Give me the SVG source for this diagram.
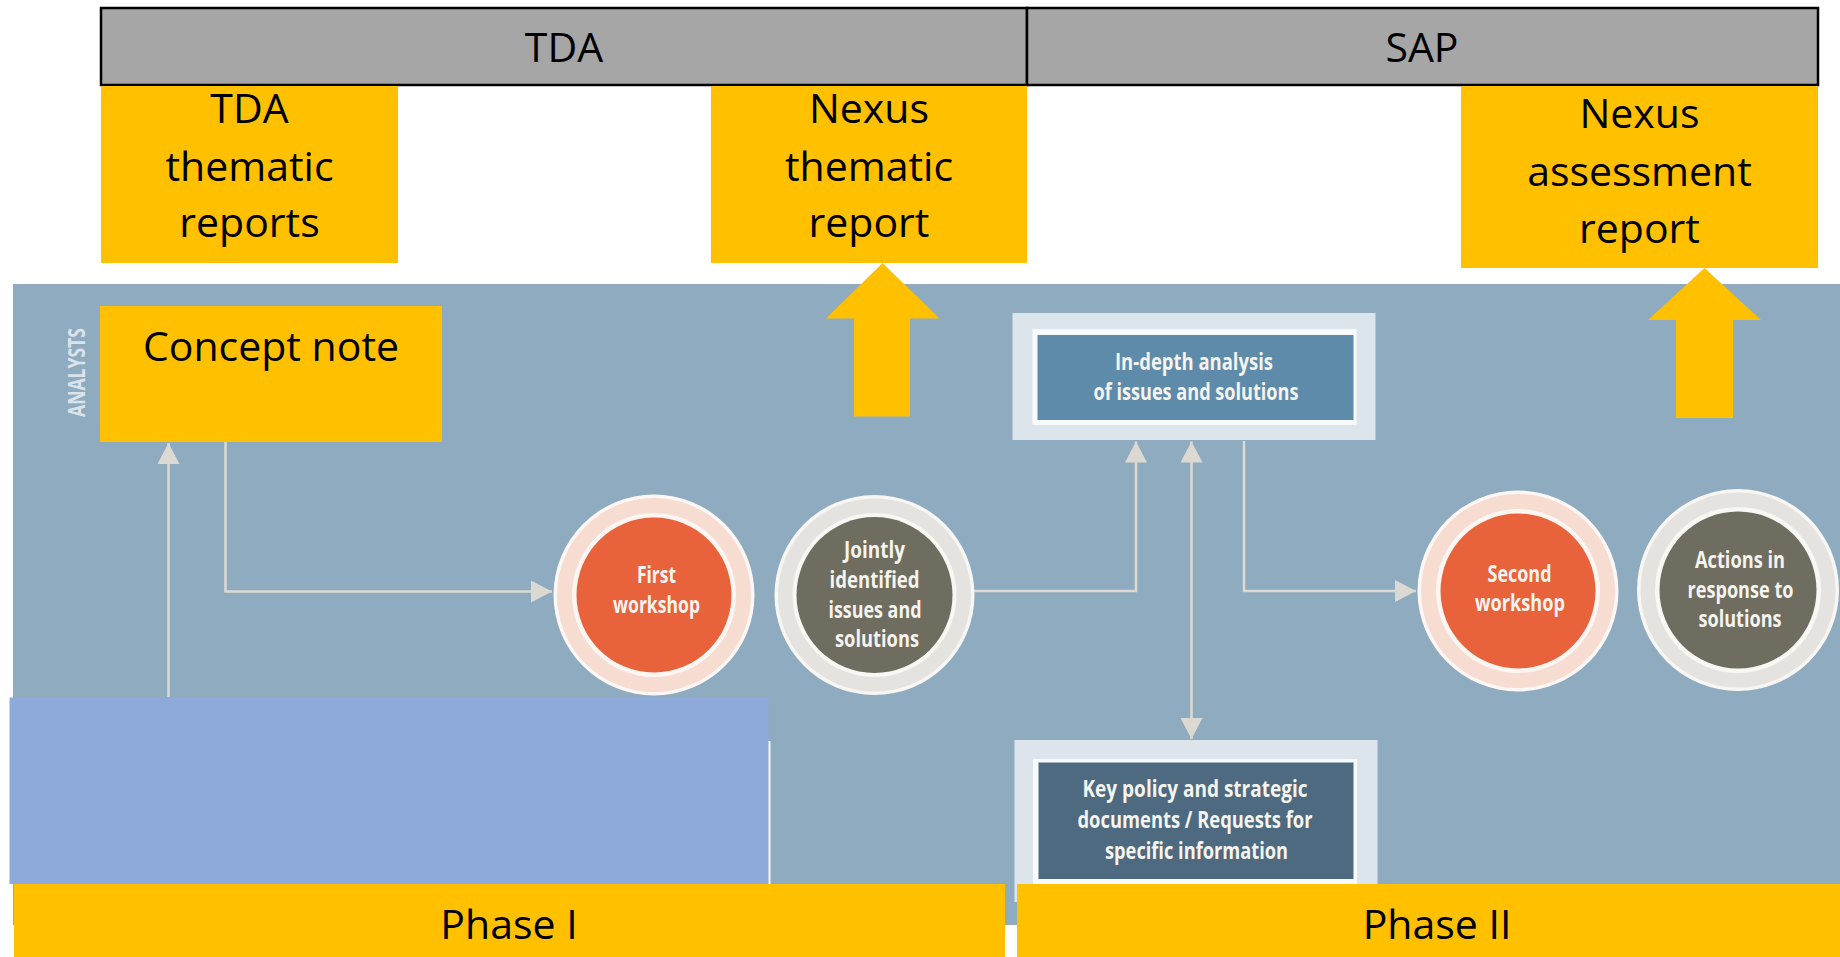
<svg xmlns="http://www.w3.org/2000/svg" width="1840" height="957" viewBox="0 0 1840 957">
<defs>
<style>
.hdr{fill:#a6a6a6;stroke:#000;stroke-width:2.5}
.yel{fill:#ffc000}
.big{font-family:"Open Sans","Noto Sans","Liberation Sans",sans-serif;font-size:41px;fill:#000;text-anchor:middle}
.lbl{font-family:"Open Sans","Noto Sans","Liberation Sans",sans-serif;font-weight:700;font-size:23.5px;fill:#f6f4ef;text-anchor:middle}
.conn{fill:none;stroke:#dcd9d2;stroke-width:2.5}
.frame{fill:#dde5ec}
</style>
<marker id="ah" markerUnits="userSpaceOnUse" markerWidth="22" markerHeight="22" refX="21" refY="11" orient="auto-start-reverse" viewBox="0 0 22 22">
<path d="M0,0 L21,11 L0,22 z" fill="#dcd9d2"/>
</marker>
</defs>
<rect width="1840" height="957" fill="#ffffff"/>
<rect id="background" x="13" y="284" width="1827" height="641" fill="#8fabc0"/>

<g id="header-tda">
<rect class="hdr" x="101" y="8" width="926" height="77"/>
<text class="big" x="564" y="62">TDA</text>
</g>
<g id="header-sap">
<rect class="hdr" x="1027" y="8" width="791" height="77"/>
<text class="big" x="1422" y="62">SAP</text>
</g>

<g id="tda-thematic-reports">
<rect class="yel" x="101" y="86" width="297" height="177"/>
<text class="big" x="249.5" y="123">TDA</text>
<text class="big" x="249.5" y="181">thematic</text>
<text class="big" x="249.5" y="237">reports</text>
</g>
<g id="nexus-thematic-report">
<rect class="yel" x="711" y="86" width="316" height="177"/>
<text class="big" x="869" y="123">Nexus</text>
<text class="big" x="869" y="181">thematic</text>
<text class="big" x="869" y="237">report</text>
<polygon class="yel" points="882.5,263 939.5,318.5 910,318.5 910,416.5 854,416.5 854,318.5 826,318.5"/>
</g>
<g id="nexus-assessment-report">
<rect class="yel" x="1461" y="86" width="357" height="182"/>
<text class="big" x="1639.5" y="128">Nexus</text>
<text class="big" x="1639.5" y="186">assessment</text>
<text class="big" x="1639.5" y="243">report</text>
<polygon class="yel" points="1704.5,268 1761,320 1733,320 1733,418 1676,418 1676,320 1648,320"/>
</g>

<g id="analysts-label">
<text x="85" y="372.5" transform="rotate(-90 85 372.5)" font-family="'Open Sans','Noto Sans','Liberation Sans',sans-serif" font-weight="700" font-size="24" fill="#dbe3ea" text-anchor="middle" textLength="89" lengthAdjust="spacingAndGlyphs">ANALYSTS</text>
</g>

<g id="key-policy">
<rect class="frame" x="1014.5" y="740" width="363" height="162"/>
<rect x="1033" y="759" width="324" height="125" fill="#f7f9fb"/>
<rect x="1038.5" y="762.5" width="315" height="116.5" fill="#4d6a80"/>
<text class="lbl" x="1195" y="796.5" textLength="225" lengthAdjust="spacingAndGlyphs">Key policy and strategic</text>
<text class="lbl" x="1195" y="828" textLength="235" lengthAdjust="spacingAndGlyphs">documents / Requests for</text>
<text class="lbl" x="1196.5" y="858.5" textLength="183" lengthAdjust="spacingAndGlyphs">specific information</text>
</g>

<g id="connectors">
<path class="conn" d="M168.5,697 V443" marker-end="url(#ah)"/>
<path class="conn" d="M225.5,442 V591.5 H552" marker-end="url(#ah)"/>
<path class="conn" d="M973,591 H1136 V441.5" marker-end="url(#ah)"/>
<path class="conn" d="M1191.5,441.5 V739" marker-start="url(#ah)" marker-end="url(#ah)"/>
<path class="conn" d="M1244,441 V591 H1416" marker-end="url(#ah)"/>
</g>

<g id="concept-note">
<rect class="yel" x="100" y="306" width="342" height="136"/>
<text class="big" x="271" y="360.5">Concept note</text>
</g>

<g id="in-depth-analysis">
<rect class="frame" x="1012.5" y="313" width="363" height="127"/>
<rect x="1032.5" y="329" width="324" height="96" fill="#f7f9fb"/>
<rect x="1037.5" y="335" width="316" height="85" fill="#5f8baa"/>
<text class="lbl" x="1194" y="370" textLength="158" lengthAdjust="spacingAndGlyphs">In-depth analysis</text>
<text class="lbl" x="1196" y="400" textLength="205" lengthAdjust="spacingAndGlyphs">of issues and solutions</text>
</g>

<g id="first-workshop">
<circle cx="654" cy="595" r="100.5" fill="#fcf7f4"/>
<circle cx="654" cy="595" r="97" fill="#f7dcd2"/>
<circle cx="654" cy="595" r="82" fill="#fcf6f2"/>
<circle cx="654" cy="595" r="77.5" fill="#e8633b"/>
<text class="lbl" x="656.5" y="582.5" textLength="39" lengthAdjust="spacingAndGlyphs">First</text>
<text class="lbl" x="656.5" y="612.5" textLength="87" lengthAdjust="spacingAndGlyphs">workshop</text>
</g>

<g id="jointly-identified">
<circle cx="874.5" cy="595" r="100" fill="#f7f6f3"/>
<circle cx="874.5" cy="595" r="96.5" fill="#e4e3df"/>
<circle cx="874.5" cy="595" r="82" fill="#f7f7f4"/>
<circle cx="874.5" cy="595" r="78" fill="#6f6d60"/>
<text class="lbl" x="874.5" y="558" textLength="61" lengthAdjust="spacingAndGlyphs">Jointly</text>
<text class="lbl" x="874.5" y="588" textLength="90" lengthAdjust="spacingAndGlyphs">identified</text>
<text class="lbl" x="875" y="618" textLength="93" lengthAdjust="spacingAndGlyphs">issues and</text>
<text class="lbl" x="877" y="646.5" textLength="84" lengthAdjust="spacingAndGlyphs">solutions</text>
</g>

<g id="second-workshop">
<circle cx="1518" cy="591" r="100.5" fill="#fcf7f4"/>
<circle cx="1518" cy="591" r="97" fill="#f7dcd2"/>
<circle cx="1518" cy="591" r="82" fill="#fcf6f2"/>
<circle cx="1518" cy="591" r="77.5" fill="#e8633b"/>
<text class="lbl" x="1519.5" y="581.5" textLength="64" lengthAdjust="spacingAndGlyphs">Second</text>
<text class="lbl" x="1520" y="610.5" textLength="90" lengthAdjust="spacingAndGlyphs">workshop</text>
</g>

<g id="actions-in-response">
<circle cx="1738" cy="590" r="101" fill="#f7f6f3"/>
<circle cx="1738" cy="590" r="97.5" fill="#e4e3df"/>
<circle cx="1738" cy="590" r="83" fill="#f7f7f4"/>
<circle cx="1738" cy="590" r="78.5" fill="#6f6d60"/>
<text class="lbl" x="1740" y="568" textLength="90" lengthAdjust="spacingAndGlyphs">Actions in</text>
<text class="lbl" x="1740.5" y="598" textLength="106" lengthAdjust="spacingAndGlyphs">response to</text>
<text class="lbl" x="1740" y="626.5" textLength="83" lengthAdjust="spacingAndGlyphs">solutions</text>
</g>

<g id="light-blue-panel">
<rect x="9.5" y="697.5" width="759" height="186.5" fill="#8eaadb"/>
<line x1="769.5" y1="741" x2="769.5" y2="884" stroke="#f2f4f7" stroke-width="2"/>
</g>

<g id="phase-1">
<rect class="yel" x="14" y="884" width="991" height="73"/>
<text class="big" x="509" y="938.5">Phase I</text>
</g>
<g id="phase-2">
<rect class="yel" x="1017" y="884" width="823" height="73"/>
<text class="big" x="1437" y="938.5">Phase II</text>
</g>
</svg>
